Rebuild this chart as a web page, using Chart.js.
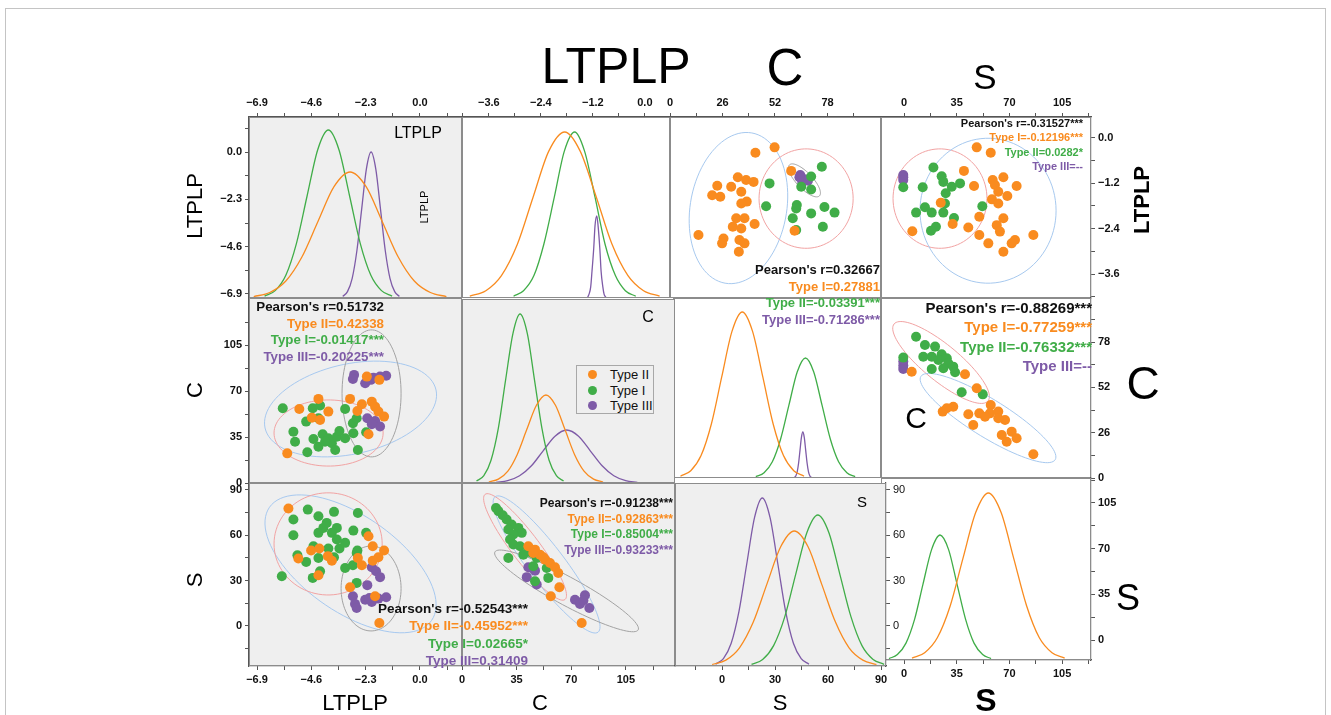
<!DOCTYPE html>
<html>
<head>
<meta charset="utf-8">
<title>LTPLP / C / S scatter matrix</title>
<script src="https://cdn.jsdelivr.net/npm/chart.js@4.4.1/dist/chart.umd.min.js"></script>
<style>
    html, body { margin: 0; padding: 0; background: #fff; }
    #page { position: relative; width: 1331px; height: 715px; overflow: hidden; font-family: 'Liberation Sans', Arial, sans-serif; }
    #page canvas { position: absolute; }
    #frame { position: absolute; left: 5px; top: 8px; width: 1321px; height: 740px; border: 1px solid #c4c4c4; box-sizing: border-box; }
    .lbl { position: absolute; white-space: nowrap; line-height: 1; color: #000; z-index: 50; }
    #legend { position: absolute; left: 576px; top: 365px; width: 78px; height: 49px; border: 1px solid #a8a8a8; background: #efefef; box-sizing: border-box; z-index: 50; }
    #legend .row { position: absolute; left: 0; height: 15px; font-size: 13px; line-height: 15px; color: #111; }
    #legend .dot { position: absolute; left: 11px; top: 3px; width: 9px; height: 9px; border-radius: 50%; }
    #legend .txt { position: absolute; left: 33px; top: 0; white-space: nowrap; }
</style>
</head>
<body>
<div id="page"><div id="frame"></div></div>
<script>
// -------------------------    Data    -------------------------

// tick labels
const ltplpTicksWide = [-6.9, -4.6, -2.3, 0.0];
const ltplpTicksNarrow = [-3.6, -2.4, -1.2, 0.0];
const cTicksWide = [0, 35, 70, 105];
const cTicksNarrow = [0, 26, 52, 78];
const sTicksWide = [0, 35, 70, 105];
const sTicksNarrow = [0, 30, 60, 90];

const legendTypes = ['typeII', 'typeI', 'typeIII'];
const legendLabels = ['Type II', 'Type I', 'Type III'];

// density curves, [value, height]
const densLtplpTypeI = [[-6.58,1.8],[-6.13,7.4],[-5.68,22.7],[-5.23,54.6],[-4.78,102.0],[-4.33,148.3],[-3.88,168],[-3.43,148.3],[-2.98,102.0],[-2.53,54.6],[-2.08,22.7],[-1.63,7.4],[-1.18,1.8]];
const densLtplpTypeII = [[-7.04,1.4],[-6.36,5.5],[-5.68,17.0],[-5.00,41.0],[-4.32,76.5],[-3.64,111.3],[-2.96,126],[-2.28,111.3],[-1.60,76.5],[-0.92,41.0],[-0.24,17.0],[0.44,5.5],[1.12,1.4]];
const densLtplpTypeIII = [[-3.27,1.6],[-3.07,6.4],[-2.87,19.7],[-2.67,47.5],[-2.47,88.6],[-2.27,128.9],[-2.07,146],[-1.87,128.9],[-1.67,88.6],[-1.47,47.5],[-1.27,19.7],[-1.07,6.4],[-0.87,1.6]];

const densLtplp2TypeII = [[-4.04,1.8],[-3.67,7.3],[-3.31,22.4],[-2.94,54.0],[-2.58,100.8],[-2.22,146.6],[-1.85,166],[-1.49,146.6],[-1.12,100.8],[-0.76,54.0],[-0.39,22.4],[-0.03,7.3],[0.34,1.8]];
const densLtplp2TypeI = [[-3.03,1.8],[-2.80,7.3],[-2.56,22.4],[-2.33,54.0],[-2.09,100.8],[-1.86,146.6],[-1.62,166],[-1.39,146.6],[-1.15,100.8],[-0.92,54.0],[-0.68,22.4],[-0.45,7.3],[-0.21,1.8]];
const densLtplp2TypeIII = [[-1.32,0.9],[-1.29,3.6],[-1.25,11.1],[-1.22,26.7],[-1.18,49.8],[-1.15,72.4],[-1.11,82],[-1.08,72.4],[-1.04,49.8],[-1.01,26.7],[-0.97,11.1],[-0.94,3.6],[-0.90,0.9]];

const densCTypeI = [[9.3,1.9],[14.0,7.4],[18.6,22.8],[23.3,54.9],[27.9,102.6],[32.6,149.2],[37.2,169],[41.9,149.2],[46.5,102.6],[51.2,54.9],[55.8,22.8],[60.5,7.4],[65.1,1.9]];
const densCTypeII = [[17.2,1.0],[23.3,3.9],[29.4,11.9],[35.4,28.6],[41.5,53.4],[47.7,77.7],[53.8,88],[59.9,77.7],[66.0,53.4],[72.1,28.6],[78.2,11.9],[84.3,3.9],[90.4,1.0]];
const densCTypeIII = [[21.8,0.6],[29.3,2.3],[36.9,7.2],[44.5,17.2],[52.0,32.2],[59.6,46.8],[67.1,53],[74.7,46.8],[82.2,32.2],[89.8,17.2],[97.3,7.2],[104.9,2.3],[112.4,0.6]];

const densC2TypeII = [[5.2,1.8],[10.3,7.3],[15.4,22.4],[20.5,54.0],[25.6,100.8],[30.7,146.6],[35.8,166],[40.9,146.6],[46.0,100.8],[51.1,54.0],[56.2,22.4],[61.3,7.3],[66.4,1.8]];
const densC2TypeI = [[42.5,1.3],[46.6,5.3],[50.7,16.2],[54.8,39.0],[58.9,72.8],[63.0,106.0],[67.1,120],[71.2,106.0],[75.3,72.8],[79.4,39.0],[83.5,16.2],[87.6,5.3],[91.7,1.3]];
const densC2TypeIII = [[61.6,0.5],[62.3,2.0],[63.0,6.2],[63.7,15.0],[64.4,27.9],[65.1,40.6],[65.8,46],[66.5,40.6],[67.2,27.9],[67.9,15.0],[68.6,6.2],[69.3,2.0],[70.0,0.5]];

const densSTypeIII = [[-3.6,1.8],[0.8,7.4],[5.2,22.7],[9.6,54.6],[14.0,102.0],[18.4,148.3],[22.8,168],[27.2,148.3],[31.6,102.0],[36.0,54.6],[40.4,22.7],[44.8,7.4],[49.2,1.8]];
const densSTypeII = [[-5.6,1.5],[2.2,5.9],[9.9,18.2],[17.7,43.9],[25.4,81.9],[33.2,119.2],[40.9,135],[48.7,119.2],[56.4,81.9],[64.2,43.9],[71.9,18.2],[79.7,5.9],[87.4,1.5]];
const densSTypeI = [[16.7,1.7],[23.0,6.6],[29.2,20.4],[35.5,49.1],[41.7,91.7],[48.0,133.3],[54.2,151],[60.5,133.3],[66.7,91.7],[73.0,49.1],[79.2,20.4],[85.5,6.6],[91.7,1.7]];

const densS2TypeI = [[-10.0,1.4],[-4.4,5.5],[1.3,16.9],[7.0,40.6],[12.6,75.9],[18.3,110.4],[23.9,125],[29.6,110.4],[35.2,75.9],[40.9,40.6],[46.5,16.9],[52.2,5.5],[57.8,1.4]];
const densS2TypeII = [[5.3,1.8],[13.7,7.3],[22.2,22.5],[30.7,54.3],[39.1,101.4],[47.6,147.4],[56.0,167],[64.5,147.4],[72.9,101.4],[81.4,54.3],[89.8,22.5],[98.3,7.3],[106.7,1.8]];

// scatter points, [x, y]
const cLtplpTypeII = [[51.8,-0.26],[42.3,-0.40],[33.6,-1.05],[37.7,-1.12],[41.4,-1.17],[23.4,-1.27],[30.3,-1.30],[35.3,-1.43],[20.9,-1.52],[24.9,-1.56],[38.0,-1.69],[35.3,-1.74],[32.8,-2.13],[36.9,-2.13],[41.9,-2.28],[31.1,-2.35],[35.3,-2.40],[14.1,-2.57],[26.5,-2.66],[25.8,-2.79],[34.4,-2.70],[36.9,-2.79],[34.1,-3.01],[60.0,-0.88],[61.7,-2.46]];
const cLtplpTypeI = [[75.2,-0.77],[69.9,-1.03],[49.3,-1.21],[65.0,-1.30],[69.9,-1.37],[47.6,-1.81],[62.8,-1.78],[76.5,-1.83],[69.9,-2.00],[81.5,-1.98],[62.5,-1.87],[60.8,-2.13],[75.7,-2.35],[62.5,-2.44]];
const cLtplpTypeIII = [[64.5,-0.99],[66.6,-1.10],[65.5,-1.17],[68.3,-1.14],[64.1,-1.05]];

const sLtplpTypeII = [[48.3,-0.26],[57.6,-0.40],[39.8,-0.88],[58.9,-1.12],[66.0,-1.05],[60.4,-1.25],[74.8,-1.28],[46.5,-1.28],[62.6,-1.43],[68.6,-1.54],[58.4,-1.63],[24.4,-1.72],[62.6,-1.74],[50.0,-2.09],[66.0,-2.13],[32.3,-2.28],[42.7,-2.37],[61.6,-2.31],[5.5,-2.47],[50.0,-2.57],[63.7,-2.48],[85.9,-2.57],[73.7,-2.70],[56.0,-2.79],[71.5,-2.79],[66.0,-3.01]];
const sLtplpTypeI = [[19.5,-0.79],[25.0,-1.02],[12.4,-1.31],[26.1,-1.17],[31.7,-1.30],[37.2,-1.21],[27.7,-1.47],[27.2,-1.74],[13.9,-1.84],[8.0,-1.98],[18.4,-1.98],[26.1,-1.98],[33.2,-2.12],[52.0,-1.81],[21.2,-2.35],[17.9,-2.46],[-0.5,-1.31]];
const sLtplpTypeIII = [[-0.5,-0.99],[-0.5,-1.05],[-0.5,-1.12]];

const ltplpCTypeII = [[-5.62,22.6],[-5.11,56.4],[-4.30,64.1],[-4.58,49.8],[-4.23,48.1],[-3.88,54.4],[-2.96,64.1],[-2.46,60.0],[-2.65,54.9],[-2.04,62.0],[-1.90,58.2],[-1.76,54.4],[-1.52,50.6],[-2.25,81.1],[-1.72,78.6],[-2.18,37.1]];
const ltplpCTypeI = [[-5.81,57.0],[-4.82,46.8],[-4.54,57.0],[-4.23,59.0],[-4.30,49.4],[-5.36,39.1],[-5.29,31.5],[-4.77,23.4],[-4.30,27.7],[-4.51,33.6],[-4.12,37.1],[-3.88,34.1],[-3.73,30.3],[-3.52,35.3],[-3.41,39.7],[-3.59,25.2],[-3.17,34.1],[-2.82,37.9],[-2.63,25.2],[-2.84,45.5],[-2.68,49.4],[-3.17,56.4],[-2.28,38.7],[-4.02,31.5]];
const ltplpCTypeIII = [[-2.79,82.4],[-2.84,79.3],[-2.32,76.0],[-2.08,78.6],[-1.69,81.1],[-1.43,81.8],[-1.97,80.3],[-2.23,49.4],[-1.90,47.3],[-1.69,43.0],[-2.04,44.8]];

const ltplpSTypeII = [[-5.57,77.7],[-5.15,44.6],[-4.61,49.9],[-4.30,33.6],[-3.90,46.2],[-4.26,51.2],[-2.18,59.4],[-2.00,52.8],[-1.52,49.9],[-1.76,45.5],[-2.46,40.2],[-2.63,45.0],[-2.00,43.2],[-2.96,25.6],[-1.90,19.7],[-1.72,2.0],[-3.73,43.2]];
const ltplpSTypeI = [[-5.85,32.9],[-5.36,70.4],[-5.36,60.0],[-5.19,46.8],[-4.82,42.4],[-4.75,77.0],[-4.30,72.6],[-4.30,61.6],[-4.09,64.9],[-3.95,68.2],[-3.64,75.5],[-3.52,64.9],[-3.73,61.6],[-3.52,57.2],[-3.41,51.2],[-3.17,55.0],[-2.82,63.1],[-2.63,74.8],[-2.28,61.6],[-2.65,49.9],[-2.68,48.3],[-4.54,31.8],[-4.23,36.2],[-4.51,52.8],[-4.30,45.0],[-3.88,51.2],[-3.64,45.5],[-3.17,38.4],[-2.84,40.2],[-2.68,28.5]];
const ltplpSTypeIII = [[-2.04,38.9],[-1.86,36.2],[-1.69,32.3],[-2.23,27.0],[-2.84,19.7],[-2.75,14.6],[-2.68,11.9],[-2.32,17.4],[-2.04,15.9],[-1.76,18.1],[-1.43,19.0],[-2.14,18.5]];

const cSTypeII = [[42.5,52.8],[46.8,50.5],[50.0,47.2],[53.2,43.9],[56.4,41.7],[59.6,38.9],[61.7,35.1],[62.4,25.6],[56.9,19.7],[76.7,2.0],[52.1,45.5],[45.7,48.3]];
const cSTypeI = [[21.8,78.1],[23.3,76.0],[26.1,73.3],[28.6,70.4],[31.8,67.1],[36.1,64.9],[38.3,61.6],[29.7,63.8],[32.9,60.5],[30.8,57.2],[32.9,53.9],[37.2,52.8],[42.5,50.5],[44.7,48.3],[47.9,45.0],[29.7,45.0],[39.3,47.2],[54.3,38.4],[55.3,31.8],[46.8,29.6],[45.7,39.5]];
const cSTypeIII = [[42.5,38.9],[46.8,36.6],[41.5,32.3],[47.9,27.4],[44.7,38.4],[72.4,17.4],[75.6,14.6],[78.8,20.3],[81.6,11.9],[77.8,16.8]];

const sCTypeII = [[5.1,61.0],[40.5,59.5],[48.3,51.5],[25.7,38.1],[32.7,40.9],[28.4,40.0],[42.7,36.6],[50.0,37.1],[57.6,41.9],[57.1,37.1],[62.6,38.1],[67.1,33.3],[62.6,34.3],[46.0,30.4],[53.8,35.2],[71.5,26.6],[64.9,24.7],[74.8,22.8],[68.2,20.8],[85.9,13.6]];
const sCTypeI = [[8.0,81.1],[13.9,76.3],[20.6,75.4],[12.8,69.6],[18.4,69.6],[25.0,71.0],[22.8,67.7],[28.4,68.7],[29.4,65.8],[32.7,63.9],[26.1,63.0],[18.4,62.6],[33.9,60.7],[-0.5,69.1],[38.3,49.2],[52.3,48.0]];
const sCTypeIII = [[-0.5,66.8],[-0.5,64.5],[-0.5,62.6]];

// confidence ellipses: centre c, conjugate semi-axes a and b (data units)
const ellipsesCLtplp = [
    { type: 'typeII', c: [33.9, -1.86], a: [6.6, 1.98], b: [23.5, -0.22] },
    { type: 'typeI', c: [67.4, -1.61], a: [23.3, 0], b: [0, 1.31] },
    { type: 'typeIII', c: [66.6, -1.13], a: [7.4, -0.41], b: [-2.8, -0.145] },
];
const ellipsesSLtplp = [
    { type: 'typeI', c: [23.9, -1.61], a: [31.2, 0], b: [0, 1.31] },
    { type: 'typeII', c: [55.8, -1.93], a: [45.2, 0], b: [0, 1.91] },
];
const ellipsesLtplpC = [
    { type: 'typeII', c: [-2.94, 56.4], a: [3.62, 14.5], b: [0.41, -33.5] },
    { type: 'typeI', c: [-3.87, 38.1], a: [2.31, 0], b: [0, 25.2] },
    { type: 'typeIII', c: [-2.05, 68.3], a: [1.25, 0], b: [0, 48.4] },
];
const ellipsesLtplpS = [
    { type: 'typeII', c: [-2.94, 41.1], a: [3.43, -37.5], b: [-1.17, -26.0] },
    { type: 'typeI', c: [-3.89, 54.3], a: [2.29, 0], b: [0, 33.8] },
    { type: 'typeIII', c: [-2.07, 24.8], a: [1.27, 0], b: [0, 28.1] },
];
const ellipsesCS = [
    { type: 'typeI', c: [40.4, 52.3], a: [25.6, -34.8], b: [-7.1, -5.6] },
    { type: 'typeII', c: [54.2, 40.7], a: [33.0, -44.8], b: [-9.2, -7.2] },
    { type: 'typeIII', c: [67.0, 23.2], a: [45.9, -25.8], b: [-4.3, -8.1] },
];
const ellipsesSC = [
    { type: 'typeI', c: [24.6, 66.3], a: [31.2, -22.1], b: [-7.6, -8.0] },
    { type: 'typeII', c: [55.8, 34.4], a: [44.6, -23.9], b: [-6.6, -9.2] },
];

// correlation texts, colours go black / orange / green / purple
const corrP13 = ["Pearson's r=0.32667", "Type I=0.27881", "Type II=-0.03391***", "Type III=-0.71286***"];
const corrP14 = ["Pearson's r=-0.31527***", "Type I=-0.12196***", "Type II=0.0282*", "Type III=--"];
const corrP21 = ["Pearson's r=0.51732", "Type II=0.42338", "Type I=-0.01417***", "Type III=-0.20225***"];
const corrP24 = ["Pearson's r=-0.88269***", "Type I=-0.77259***", "Type II=-0.76332***", "Type III=--"];
const corrP32 = ["Pearson's r=-0.91238***", "Type II=-0.92863***", "Type I=-0.85004***", "Type III=-0.93233***"];
const corrP31 = ["Pearson's r=-0.52543***", "Type II=-0.45952***", "Type I=0.02665*", "Type III=0.31409"];


// -------------------------    Styles    -------------------------

const typeColors = { typeII: '#f98b1f', typeI: '#40ad48', typeIII: '#7e5ba7' };
const ellipseColors = { typeII: '#a7c9ef', typeI: '#f2a3a3', typeIII: '#a3a3a3' };
const corrColors = ['#111111', typeColors.typeII, typeColors.typeI, typeColors.typeIII];
const GRAY = '#efefef';
const WHITE = '#ffffff';
const M = 50;
const page = document.getElementById('page');


// -------------------------    helperfunctions    -------------------------

function fmtTick(v, dec) {
    const s = Math.abs(v).toFixed(dec);
    return (v < -1e-9 ? '\u2212' : '') + s;
}

function buildScale(id, s) {
    const axis = id.charAt(0);
    const cfg = { type: 'linear', axis: axis, min: s.min, max: s.max };
    if (!s.pos) {
        cfg.display = false;
        return cfg;
    }
    const majors = s.ticks;
    const half = (majors[1] - majors[0]) / 2;
    const all = [majors[0] - half];
    majors.forEach(v => { all.push(v); all.push(v + half); });
    const list = all.filter(v => v >= s.min - 1e-9 && v <= s.max + 1e-9);

    cfg.display = true;
    cfg.position = s.pos;
    cfg.grid = { drawOnChartArea: false, drawTicks: true, tickLength: 4, tickColor: '#555', tickWidth: 1 };
    cfg.border = { display: true, color: '#555', width: 1.2 };
    cfg.ticks = {
        autoSkip: false, maxRotation: 0, minRotation: 0, padding: 3, color: '#111',
        font: { family: 'Liberation Sans', size: 11, weight: s.light ? 'normal' : 'bold' },
        callback: (v) => majors.some(m => Math.abs(m - v) < 1e-6) ? fmtTick(v, s.dec || 0) : '',
    };
    cfg.afterBuildTicks = (sc) => { sc.ticks = list.map(v => ({ value: v })); };
    cfg.afterFit = (sc) => { if (axis === 'x') sc.height = M; else sc.width = M; };
    return cfg;
}

function pointsSet(data, type) {
    return {
        data: data.map(p => ({ x: p[0], y: p[1] })),
        backgroundColor: typeColors[type], borderWidth: 0,
        pointRadius: 5, pointHoverRadius: 5, xAxisID: 'x', yAxisID: 'y',
    };
}

function curveSet(data, type) {
    return {
        data: data.map(p => ({ x: p[0], y: p[1] })),
        showLine: true, borderColor: typeColors[type], borderWidth: 1.3,
        pointRadius: 0, tension: 0.4, cubicInterpolationMode: 'monotone', fill: false,
        xAxisID: 'x', yAxisID: 'y',
    };
}

function decoPlugin(p) {
    return {
        id: 'deco_' + p.id,
        beforeDraw(chart) {
            const a = chart.chartArea, ctx = chart.ctx;
            ctx.save();
            ctx.fillStyle = p.bg;
            ctx.fillRect(a.left, a.top, a.right - a.left, a.bottom - a.top);
            ctx.restore();
        },
        beforeDatasetsDraw(chart) {
            if (!p.ellipses) return;
            const a = chart.chartArea, ctx = chart.ctx;
            const xs = chart.scales.x, ys = chart.scales.y;
            ctx.save();
            ctx.beginPath();
            ctx.rect(a.left, a.top, a.right - a.left, a.bottom - a.top);
            ctx.clip();
            p.ellipses.forEach(e => {
                ctx.beginPath();
                for (let i = 0; i <= 90; i++) {
                    const t = i / 90 * Math.PI * 2;
                    const vx = e.c[0] + Math.cos(t) * e.a[0] + Math.sin(t) * e.b[0];
                    const vy = e.c[1] + Math.cos(t) * e.a[1] + Math.sin(t) * e.b[1];
                    const px = xs.getPixelForValue(vx), py = ys.getPixelForValue(vy);
                    if (i === 0) ctx.moveTo(px, py); else ctx.lineTo(px, py);
                }
                ctx.strokeStyle = ellipseColors[e.type];
                ctx.lineWidth = 1;
                ctx.stroke();
            });
            ctx.restore();
        },
        afterDraw(chart) {
            const a = chart.chartArea, ctx = chart.ctx;
            ctx.save();
            ctx.strokeStyle = '#8c8c8c';
            ctx.lineWidth = 1;
            ctx.strokeRect(a.left + 0.5, a.top + 0.5, a.right - a.left - 1, a.bottom - a.top - 1);
            ctx.restore();
        },
    };
}

function makePanel(p, z) {
    const [l, t, r, b] = p.rect;
    const cv = document.createElement('canvas');
    cv.width = r - l + 2 * M;
    cv.height = b - t + 2 * M;
    cv.style.left = (l - M) + 'px';
    cv.style.top = (t - M) + 'px';
    cv.style.zIndex = z;
    page.appendChild(cv);

    const scales = {};
    const sides = {};
    for (const id in p.scales) {
        scales[id] = buildScale(id, p.scales[id]);
        if (p.scales[id].pos) sides[p.scales[id].pos] = true;
    }
    const padding = {
        left: sides.left ? 0 : M, right: sides.right ? 0 : M,
        top: sides.top ? 0 : M, bottom: sides.bottom ? 0 : M,
    };
    return new Chart(cv, {
        type: 'scatter',
        data: { datasets: p.datasets },
        options: {
            responsive: false, animation: false, events: [],
            layout: { padding: padding },
            scales: scales,
            plugins: { legend: { display: false }, tooltip: { enabled: false } },
        },
        plugins: [decoPlugin(p)],
    });
}

function addText(text, x, y, o) {
    const d = document.createElement('div');
    d.className = 'lbl';
    d.textContent = text;
    d.style.left = x + 'px';
    d.style.top = y + 'px';
    d.style.fontSize = o.size + 'px';
    if (o.bold) d.style.fontWeight = 'bold';
    if (o.color) d.style.color = o.color;
    const ax = o.align === 'right' ? '-100%' : '-50%';
    d.style.transform = 'translate(' + ax + ', -50%)' + (o.rotate ? ' rotate(-90deg)' : '');
    page.appendChild(d);
}

function addCorr(lines, right, top, step, size) {
    lines.forEach((txt, i) => addText(txt, right, top + i * step, { size: size, bold: true, color: corrColors[i], align: 'right' }));
}


// -------------------------    Panels    -------------------------

const panels = [
    { id: 'p11', rect: [249, 117, 462, 298], bg: GRAY,
      scales: { x: { min: -7.24, max: 1.78, pos: 'top', ticks: ltplpTicksWide, dec: 1 },
                y: { min: 0, max: 181 },
                y2: { min: -7.1, max: 1.71, pos: 'left', ticks: ltplpTicksWide, dec: 1 } },
      datasets: [curveSet(densLtplpTypeII, 'typeII'), curveSet(densLtplpTypeI, 'typeI'), curveSet(densLtplpTypeIII, 'typeIII')] },
    { id: 'p12', rect: [462, 117, 670, 298], bg: WHITE,
      scales: { x: { min: -4.22, max: 0.58, pos: 'top', ticks: ltplpTicksNarrow, dec: 1 },
                y: { min: 0, max: 181 } },
      datasets: [curveSet(densLtplp2TypeII, 'typeII'), curveSet(densLtplp2TypeI, 'typeI'), curveSet(densLtplp2TypeIII, 'typeIII')] },
    { id: 'p13', rect: [670, 117, 881, 298], bg: WHITE, ellipses: ellipsesCLtplp,
      scales: { x: { min: 0, max: 104.5, pos: 'top', ticks: cTicksNarrow },
                y: { min: -4.23, max: 0.54 } },
      datasets: [pointsSet(cLtplpTypeII, 'typeII'), pointsSet(cLtplpTypeI, 'typeI'), pointsSet(cLtplpTypeIII, 'typeIII')] },
    { id: 'p14', rect: [881, 117, 1091, 298], bg: WHITE, ellipses: ellipsesSLtplp,
      scales: { x: { min: -15.3, max: 124.2, pos: 'top', ticks: sTicksWide },
                y: { min: -4.23, max: 0.54, pos: 'right', ticks: ltplpTicksNarrow, dec: 1 } },
      datasets: [pointsSet(sLtplpTypeII, 'typeII'), pointsSet(sLtplpTypeI, 'typeI'), pointsSet(sLtplpTypeIII, 'typeIII')] },

    { id: 'p21', rect: [249, 298, 462, 483], bg: GRAY, ellipses: ellipsesLtplpC,
      scales: { x: { min: -7.24, max: 1.78 },
                y: { min: 0, max: 141, pos: 'left', ticks: cTicksWide } },
      datasets: [pointsSet(ltplpCTypeII, 'typeII'), pointsSet(ltplpCTypeI, 'typeI'), pointsSet(ltplpCTypeIII, 'typeIII')] },
    { id: 'p23', rect: [673, 298, 881, 478], bg: WHITE,
      scales: { x: { min: 1.5, max: 104.5 }, y: { min: 0, max: 180 } },
      datasets: [curveSet(densC2TypeII, 'typeII'), curveSet(densC2TypeI, 'typeI'), curveSet(densC2TypeIII, 'typeIII')] },
    { id: 'p22', rect: [462, 299, 675, 483], bg: GRAY,
      scales: { x: { min: 0, max: 136.5 }, y: { min: 0, max: 184 } },
      datasets: [curveSet(densCTypeII, 'typeII'), curveSet(densCTypeI, 'typeI'), curveSet(densCTypeIII, 'typeIII')] },
    { id: 'p24', rect: [881, 298, 1091, 478], bg: WHITE, ellipses: ellipsesSC,
      scales: { x: { min: -15.3, max: 124.2 },
                y: { min: 0, max: 103.3, pos: 'right', ticks: cTicksNarrow } },
      datasets: [pointsSet(sCTypeII, 'typeII'), pointsSet(sCTypeI, 'typeI'), pointsSet(sCTypeIII, 'typeIII')] },

    { id: 'p31', rect: [249, 483, 462, 666], bg: GRAY, ellipses: ellipsesLtplpS,
      scales: { x: { min: -7.24, max: 1.78, pos: 'bottom', ticks: ltplpTicksWide, dec: 1 },
                y: { min: -26.5, max: 94.6, pos: 'left', ticks: sTicksNarrow } },
      datasets: [pointsSet(ltplpSTypeII, 'typeII'), pointsSet(ltplpSTypeI, 'typeI'), pointsSet(ltplpSTypeIII, 'typeIII')] },
    { id: 'p32', rect: [462, 483, 675, 666], bg: GRAY, ellipses: ellipsesCS,
      scales: { x: { min: 0, max: 136.5, pos: 'bottom', ticks: cTicksWide },
                y: { min: -26.5, max: 94.6 } },
      datasets: [pointsSet(cSTypeII, 'typeII'), pointsSet(cSTypeI, 'typeI'), pointsSet(cSTypeIII, 'typeIII')] },
    { id: 'p34', rect: [881, 478, 1091, 660], bg: WHITE,
      scales: { x: { min: -15.3, max: 124.2, pos: 'bottom', ticks: sTicksWide },
                y: { min: 0, max: 182 },
                y2: { min: -15.3, max: 124.1, pos: 'right', ticks: sTicksWide } },
      datasets: [curveSet(densS2TypeII, 'typeII'), curveSet(densS2TypeI, 'typeI')] },
    { id: 'p33', rect: [675, 483, 886, 666], bg: GRAY,
      scales: { x: { min: -26.6, max: 92.8, pos: 'bottom', ticks: sTicksNarrow },
                y: { min: 0, max: 183 },
                y2: { min: -26.5, max: 94.6, pos: 'right', ticks: sTicksNarrow, light: true } },
      datasets: [curveSet(densSTypeII, 'typeII'), curveSet(densSTypeI, 'typeI'), curveSet(densSTypeIII, 'typeIII')] },
];

panels.forEach((p, i) => makePanel(p, i + 1));


// -------------------------    Texts    -------------------------

// variable titles around the matrix
addText('LTPLP', 616, 66, { size: 50 });
addText('C', 785, 67, { size: 51 });
addText('S', 985, 76, { size: 35 });
addText('LTPLP', 195, 206, { size: 22, rotate: true });
addText('C', 195, 390, { size: 22, rotate: true });
addText('S', 195, 580, { size: 22, rotate: true });
addText('LTPLP', 1142, 200, { size: 22, bold: true, rotate: true });
addText('C', 1143, 383, { size: 46 });
addText('S', 1128, 598, { size: 36 });
addText('LTPLP', 355, 703, { size: 22 });
addText('C', 540, 703, { size: 22 });
addText('S', 780, 703, { size: 22 });
addText('S', 986, 700, { size: 32, bold: true });

// labels inside panels
addText('LTPLP', 418, 133, { size: 16 });
addText('LTPLP', 424, 207, { size: 11, rotate: true });
addText('C', 648, 317, { size: 16 });
addText('C', 916, 418, { size: 30 });
addText('S', 862, 501, { size: 15 });

// correlation blocks
addCorr(corrP13, 880, 269, 16.7, 13);
addCorr(corrP14, 1083, 123, 14.3, 11);
addCorr(corrP21, 384, 307, 16.7, 13.3);
addCorr(corrP24, 1092, 307, 19.3, 15);
addCorr(corrP32, 673, 503, 15.7, 12);
addCorr(corrP31, 528, 609, 17.3, 13.5);

// legend
const legend = document.createElement('div');
legend.id = 'legend';
legendLabels.forEach((name, i) => {
    const row = document.createElement('div');
    row.className = 'row';
    row.style.top = (1 + i * 15.5) + 'px';
    row.innerHTML = '<span class="dot" style="background:' + typeColors[legendTypes[i]] + '"></span><span class="txt"></span>';
    row.querySelector('.txt').textContent = name;
    legend.appendChild(row);
});
page.appendChild(legend);
</script>
</body>
</html>
